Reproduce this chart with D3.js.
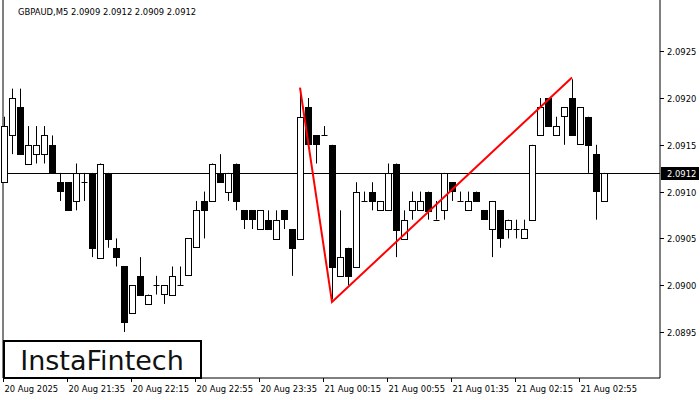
<!DOCTYPE html>
<html><head><meta charset="utf-8">
<script src="https://cdn.jsdelivr.net/npm/d3@7"></script>
<style>body{margin:0;background:#fff}svg{display:block}text{font-family:"DejaVu Sans",sans-serif}</style>
</head><body><svg id="c" width="700" height="400"></svg>
<script>
const opens  = [2.0911,2.0916,2.0919,2.0913,2.0914,2.0914,2.0915,2.0911,2.0911,2.0909,2.0911,2.0912,2.0903,2.0912,2.0904,2.0902,2.0897,2.0901,2.0898,2.0900,2.0899,2.0899,2.0900,2.0901,2.0904,2.0909,2.0909,2.0912,2.0910,2.0913,2.0908,2.0908,2.0906,2.0907,2.0905,2.0908,2.0906,2.0905,2.0919,2.0916,2.0916,2.0915,2.0901,2.0904,2.0902,2.0909,2.0910,2.0908,2.0908,2.0913,2.0905,2.0908,2.0908,2.0910,2.0907,2.0908,2.0911,2.0909,2.0908,2.0910,2.0908,2.0906,2.0908,2.0906,2.0906,2.0905,2.0907,2.0916,2.0920,2.0916,2.0918,2.0920,2.0915,2.0918,2.0914,2.0909];
const highs  = [2.0918,2.0921,2.0921,2.0917,2.0917,2.0917,2.0916,2.0912,2.0911,2.0913,2.0912,2.0912,2.0913,2.0912,2.0905,2.0902,2.0900,2.0903,2.0899,2.0901,2.0900,2.0902,2.0902,2.0905,2.0909,2.0910,2.0913,2.0914,2.0912,2.0913,2.0908,2.0908,2.0908,2.0908,2.0908,2.0908,2.0906,2.0921,2.0920,2.0916,2.0917,2.0915,2.0908,2.0904,2.0911,2.0910,2.0911,2.0909,2.0913,2.0913,2.0908,2.0910,2.0910,2.0910,2.0909,2.0912,2.0911,2.0910,2.0910,2.0910,2.0908,2.0909,2.0908,2.0907,2.0907,2.0907,2.0915,2.0920,2.0920,2.0918,2.0919,2.0922,2.0919,2.0918,2.0915,2.0912];
const lows   = [2.0911,2.0914,2.0914,2.0913,2.0913,2.0913,2.0912,2.0909,2.0908,2.0908,2.0909,2.0903,2.0903,2.0904,2.0902,2.0895,2.0897,2.0899,2.0898,2.0899,2.0898,2.0899,2.0900,2.0901,2.0904,2.0905,2.0909,2.0911,2.0909,2.0908,2.0906,2.0906,2.0906,2.0906,2.0905,2.0906,2.0901,2.0905,2.0915,2.0913,2.0916,2.08985,2.0901,2.0900,2.0902,2.0909,2.0908,2.0908,2.0908,2.0903,2.0905,2.0907,2.0908,2.0907,2.0907,2.0907,2.0909,2.0909,2.0908,2.0909,2.0907,2.0903,2.0904,2.0905,2.0905,2.0905,2.0907,2.0916,2.0917,2.0916,2.0915,2.0916,2.0915,2.0912,2.0907,2.0909];
const closes = [2.0917,2.0920,2.0914,2.0915,2.0915,2.0916,2.0912,2.0910,2.0908,2.0912,2.0911,2.0904,2.0913,2.0905,2.0903,2.0896,2.0900,2.0899,2.0899,2.0900,2.0900,2.0901,2.0900,2.0905,2.0908,2.0908,2.0913,2.0911,2.0912,2.0909,2.0907,2.0907,2.0908,2.0906,2.0907,2.0907,2.0904,2.0918,2.0915,2.0915,2.0916,2.0902,2.0903,2.0901,2.0910,2.0909,2.0909,2.0909,2.0912,2.0906,2.0907,2.0909,2.0909,2.0908,2.0907,2.0912,2.0910,2.0909,2.0909,2.0909,2.0907,2.0909,2.0905,2.0907,2.0906,2.0906,2.0915,2.0919,2.0917,2.0917,2.0919,2.0916,2.0919,2.0915,2.0910,2.0912];
const yTicks = [2.0895,2.0900,2.0905,2.0910,2.0915,2.0920,2.0925];
const xTickIdx = [0,8,16,24,32,40,48,56,64,72];
const xTickLabels = ["20 Aug 2025","20 Aug 21:35","20 Aug 22:15","20 Aug 22:55","20 Aug 23:35","21 Aug 00:15","21 Aug 00:55","21 Aug 01:35","21 Aug 02:15","21 Aug 02:55"];
const patternIdx = [37,41,71];
const patternPrice = [2.09211,2.08982,2.09222];
const currentPrice = 2.0912;
const title = "GBPAUD,M5  2.0909 2.0912 2.0909 2.0912";

const svg = d3.select("#c");
const L=3,R=660,T=0,B=378;
const FS=8.4;
const x = d3.scaleLinear().domain([0,1]).range([4,12]);
const y = d3.scaleLinear().domain([2.0895,2.0920]).range([332,98]);
const g = svg.append("g");
g.append("line").attr("x1",L).attr("x2",L).attr("y1",T).attr("y2",B).attr("stroke","#000");
g.append("line").attr("x1",R).attr("x2",R).attr("y1",T).attr("y2",B).attr("stroke","#000");
g.append("line").attr("x1",L).attr("x2",R).attr("y1",B).attr("y2",B).attr("stroke","#000");
g.append("line").attr("x1",L).attr("x2",R).attr("y1",Math.round(y(currentPrice))+0.5).attr("y2",Math.round(y(currentPrice))+0.5).attr("stroke","#000");
opens.forEach((o,i)=>{
  const cx=Math.round(x(i))+0.5, c=closes[i];
  g.append("line").attr("x1",cx).attr("x2",cx).attr("y1",y(highs[i])).attr("y2",y(lows[i])).attr("stroke","#000");
  const top=y(Math.max(o,c)), bot=y(Math.min(o,c));
  if (o===c) {
    g.append("line").attr("x1",cx-3).attr("x2",cx+3).attr("y1",Math.round(top)+0.5).attr("y2",Math.round(top)+0.5).attr("stroke","#000");
  } else {
    g.append("rect").attr("x",cx-3).attr("y",Math.round(top)+0.5).attr("width",6).attr("height",Math.max(1,Math.round(bot-top)))
     .attr("fill",c>o?"#fff":"#000").attr("stroke","#000");
  }
});
g.append("path").attr("d",d3.line().x(d=>x(d[0])).y(d=>y(d[1]))(patternIdx.map((d,i)=>[d,patternPrice[i]])))
 .attr("fill","none").attr("stroke","#f00").attr("stroke-width",2);
yTicks.forEach(v=>{
  const yy=Math.round(y(v))+0.5;
  g.append("line").attr("x1",R).attr("x2",R+4).attr("y1",yy).attr("y2",yy).attr("stroke","#000");
  g.append("text").attr("x",667).attr("y",yy+3.5).attr("font-size",FS).text(v.toFixed(4));
});
const cy=Math.round(y(currentPrice));
g.append("rect").attr("x",661).attr("y",cy-6).attr("width",38).attr("height",13).attr("fill","#000");
g.append("text").attr("x",667).attr("y",cy+4).attr("font-size",FS).attr("fill","#fff").text(currentPrice.toFixed(4));
xTickIdx.forEach((d,i)=>{
  const xx=Math.round(x(d))-0.5;
  g.append("line").attr("x1",xx).attr("x2",xx).attr("y1",B).attr("y2",B+4).attr("stroke","#000");
  g.append("text").attr("x",xx+1).attr("y",392).attr("font-size",FS).text(xTickLabels[i]);
});
g.append("text").attr("x",18).attr("y",15).attr("font-size",FS).text(title);
g.append("rect").attr("x",4).attr("y",341).attr("width",197).attr("height",37).attr("fill","#fff").attr("stroke","#000").attr("stroke-width",2);
g.append("text").attr("x",102).attr("y",370).attr("text-anchor","middle").attr("font-size",27).attr("font-family","Inter, 'Noto Sans', sans-serif").attr("font-weight",500).attr("fill","#111").text("InstaFintech");
</script></body></html>
